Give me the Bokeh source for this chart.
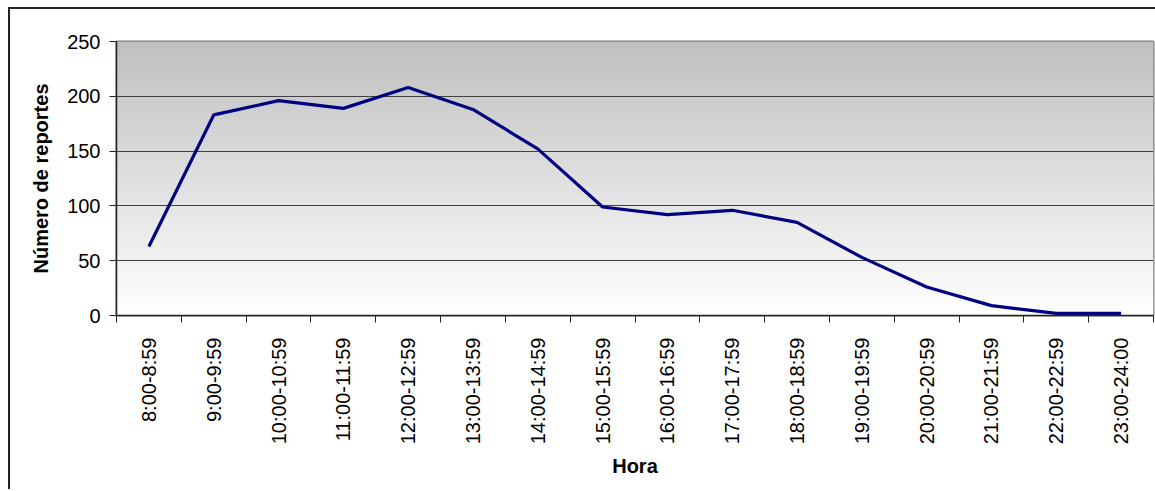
import numpy as np
from bokeh.plotting import figure
from bokeh.models import Range1d, FixedTicker
from bokeh.embed import file_html
from bokeh.resources import INLINE

horas = ["8:00-8:59", "9:00-9:59", "10:00-10:59", "11:00-11:59", "12:00-12:59",
         "13:00-13:59", "14:00-14:59", "15:00-15:59", "16:00-16:59", "17:00-17:59",
         "18:00-18:59", "19:00-19:59", "20:00-20:59", "21:00-21:59", "22:00-22:59",
         "23:00-24:00"]
reportes = [63, 183, 196, 189, 208, 188, 152, 99, 92, 96, 85, 53, 26, 9, 2, 2]
y_ticks = [0, 50, 100, 150, 200, 250]

FONT = "Liberation Sans"
n = len(horas)
xs = list(range(1, n + 1))

p = figure(frame_width=1037, frame_height=274, output_backend="svg",
           toolbar_location=None, min_border_left=106, min_border_top=32,
           min_border_right=2, min_border_bottom=174,
           x_range=Range1d(0.5, n + 0.5), y_range=Range1d(0, 250),
           background_fill_color="white", border_fill_color="white",
           styles={"margin-left": "8px", "margin-top": "7px",
                   "border-left": "2px solid #222222", "border-top": "2px solid #222222"})

# vertical gradient background (gray top -> white bottom)
rows = 256
t = np.linspace(0.0, 1.0, rows)[:, None]  # 0 bottom, 1 top
top = np.array([192, 192, 192]); bot = np.array([255, 255, 255])
col = (bot + (top - bot) * t).astype(np.uint32)
img = np.zeros((rows, 2), dtype=np.uint32)
view = img.view(dtype=np.uint8).reshape((rows, 2, 4))
view[:, :, 0] = col[:, 0:1]
view[:, :, 1] = col[:, 1:2]
view[:, :, 2] = col[:, 2:3]
view[:, :, 3] = 255
p.image_rgba(image=[img], x=0.5, y=0, dw=n, dh=250, level="image")

p.line(xs, reportes, line_color="#000080", line_width=3.2)

p.outline_line_color = "#808080"
p.outline_line_width = 2

p.xgrid.visible = False
p.ygrid.ticker = FixedTicker(ticks=y_ticks)
p.ygrid.grid_line_color = "#404040"
p.ygrid.grid_line_width = 1

xa = p.xaxis[0]
xa.ticker = FixedTicker(ticks=xs, minor_ticks=[i + 0.5 for i in range(0, n + 1)])
xa.major_label_overrides = {i + 1: h for i, h in enumerate(horas)}
xa.major_label_orientation = np.pi / 2
xa.major_tick_out = 0
xa.major_tick_in = 0
xa.minor_tick_out = 7
xa.minor_tick_in = 0
xa.minor_tick_line_color = "#222222"
xa.axis_line_color = "#222222"
xa.axis_line_width = 1.5
xa.major_label_standoff = 15
xa.major_label_text_font = FONT
xa.major_label_text_font_size = "20px"
xa.major_label_text_color = "black"
xa.axis_label = "Hora"
xa.axis_label_text_font = FONT
xa.axis_label_text_font_size = "20px"
xa.axis_label_text_font_style = "bold"
xa.axis_label_text_color = "black"
xa.axis_label_standoff = 8

ya = p.yaxis[0]
ya.ticker = FixedTicker(ticks=y_ticks)
ya.minor_tick_line_color = None
ya.major_tick_out = 7
ya.major_tick_in = 0
ya.major_tick_line_color = "#222222"
ya.axis_line_color = "#222222"
ya.axis_line_width = 1.5
ya.major_label_standoff = 9
ya.major_label_text_font = FONT
ya.major_label_text_font_size = "20px"
ya.major_label_text_color = "black"
ya.axis_label = "Número de reportes"
ya.axis_label_text_font = FONT
ya.axis_label_text_font_size = "20px"
ya.axis_label_text_font_style = "bold"
ya.axis_label_text_color = "black"
ya.axis_label_standoff = 12

open("out.html", "w").write(file_html(p, INLINE))
